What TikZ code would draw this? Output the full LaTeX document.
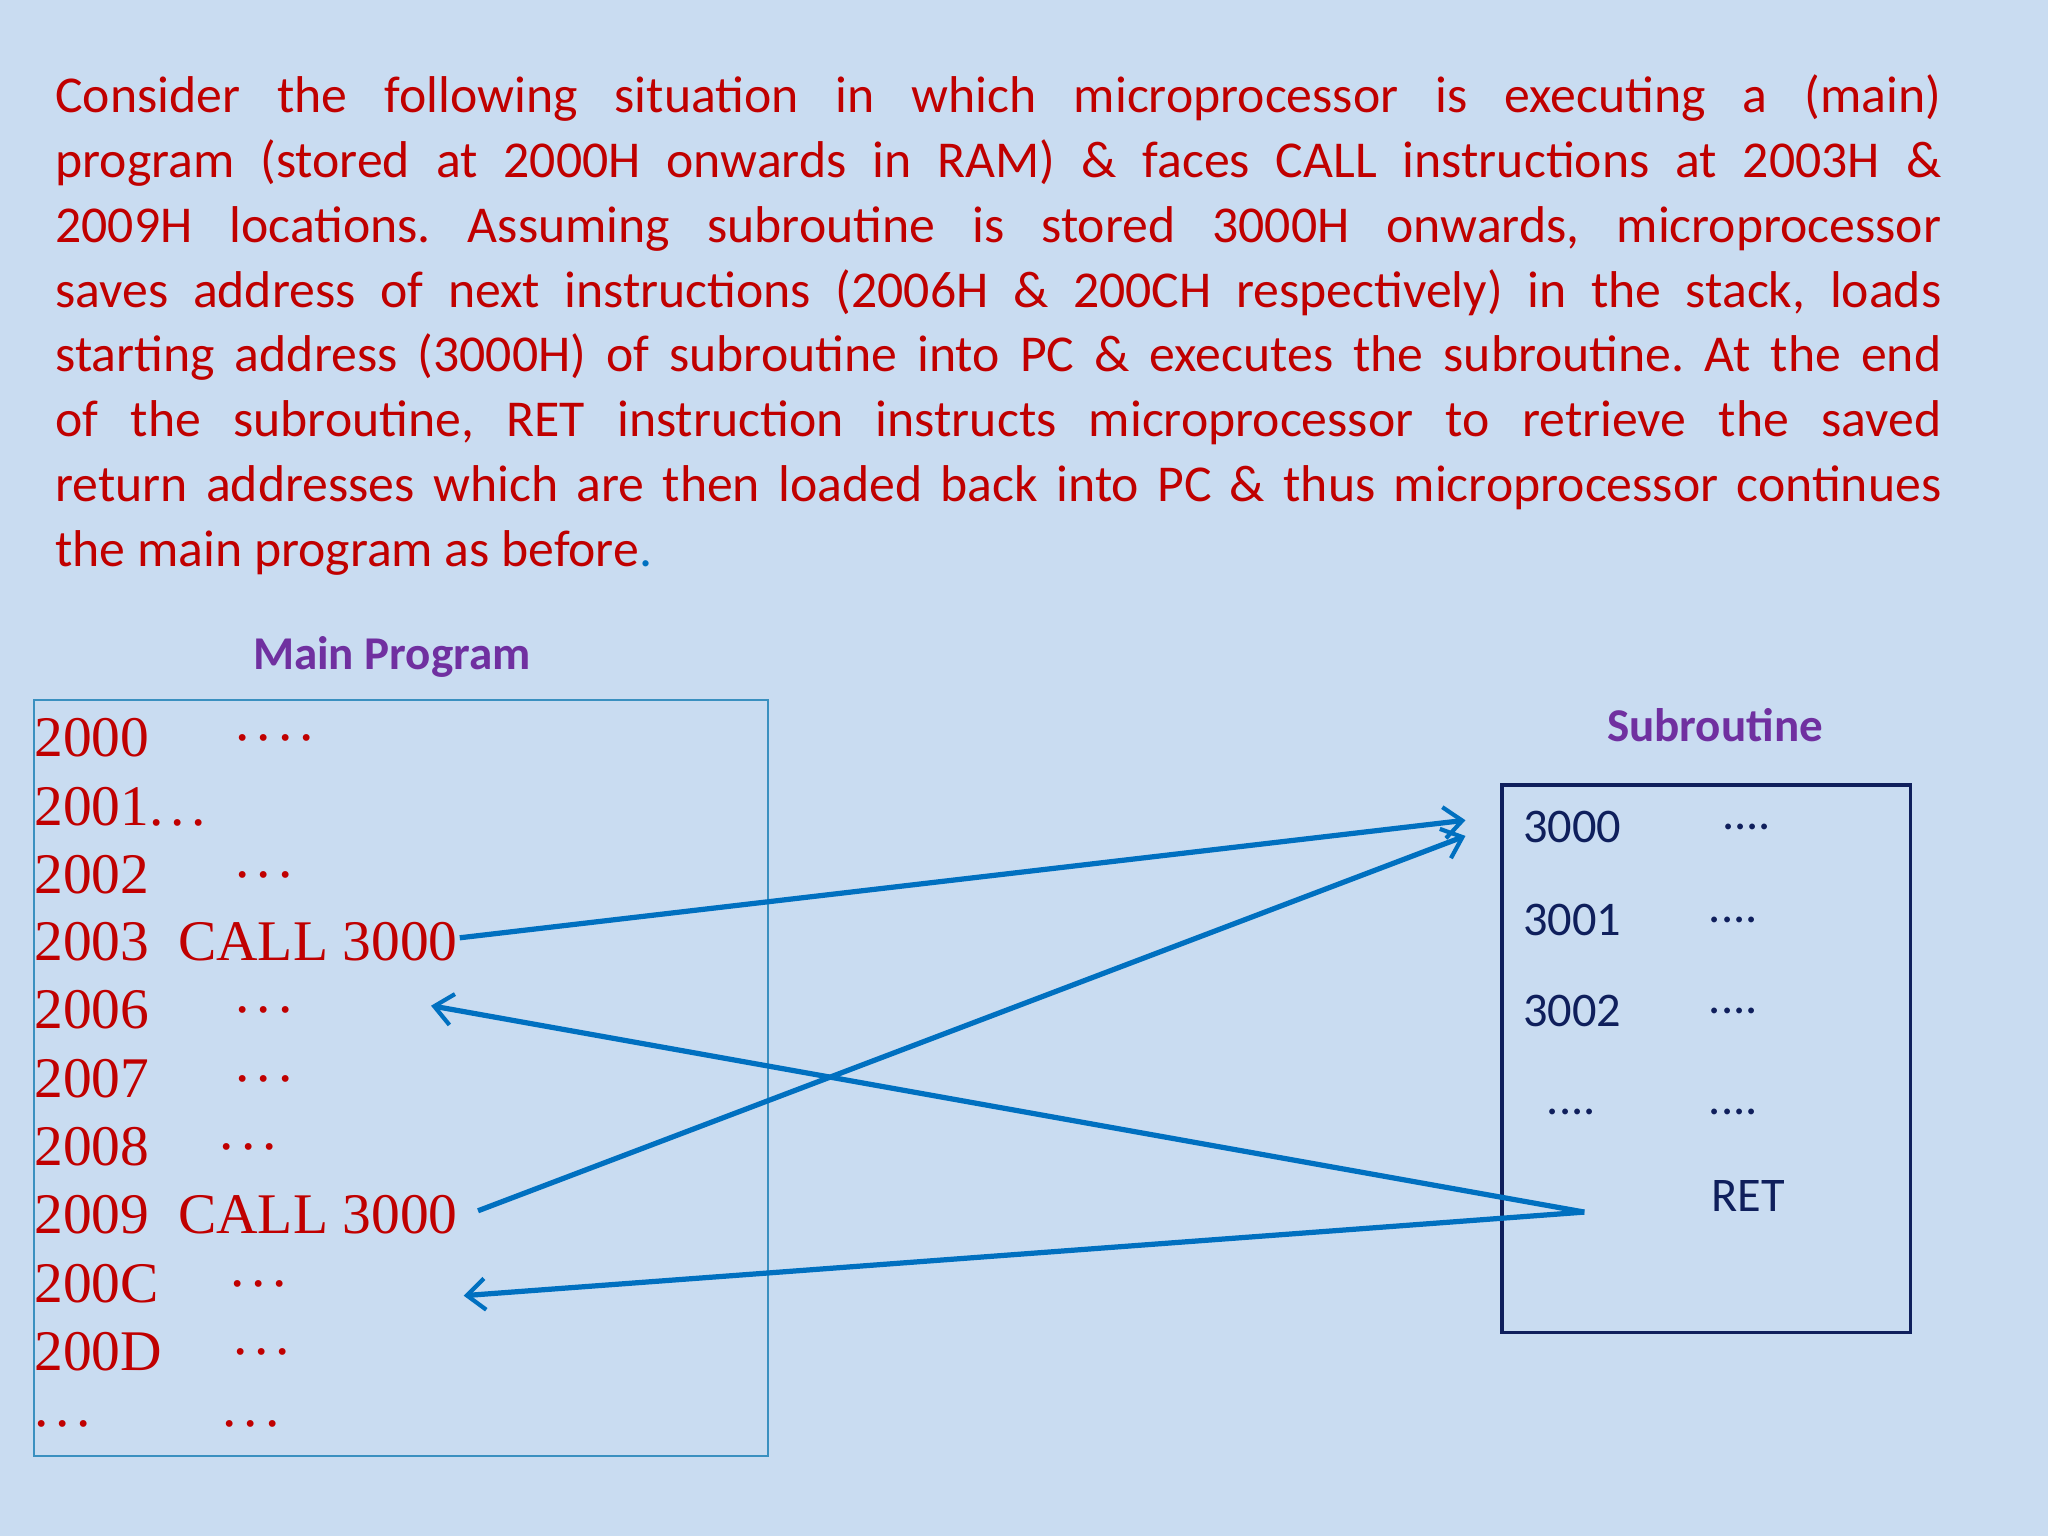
\documentclass[tikz,border=0pt]{standalone}
\usepackage{fontspec}
\setmainfont{Carlito}
\newfontfamily\timesf{Liberation Serif}
\usetikzlibrary{arrows.meta}
\definecolor{bg}{HTML}{C9DCF1}
\definecolor{txtred}{HTML}{C00000}
\definecolor{purp}{HTML}{7030A0}
\definecolor{arr}{HTML}{0070C0}
\definecolor{navy}{HTML}{0F1F5C}
\definecolor{teal}{HTML}{3A90C0}
\newcommand{\dts}[1]{\foreach \i in {1,...,#1}{.\hspace{0.12em}}}
\frenchspacing
\begin{document}
\begin{tikzpicture}[x=0.5pt,y=-0.5pt,
  mp/.style={anchor=west,inner sep=0pt,font=\timesf\fontsize{22}{24}\selectfont,text=txtred},
  sr/.style={anchor=west,inner sep=0pt,font=\fontsize{18.5}{20}\selectfont,text=navy},
  ttl/.style={font=\bfseries\fontsize{18}{20}\selectfont,text=purp},
  con/.style={draw=arr,line width=2pt,-{Straight Barb[length=7pt,width=12pt,line width=1.6pt]}}]
\fill[bg] (0,0) rectangle (1568,1176);
\useasboundingbox (0,0) rectangle (1568,1176);
\node[anchor=north west,inner sep=0pt,text width=722pt,align=justify,text=txtred,
  font=\fontsize{19.8}{24.8}\selectfont] (para) at (42,57)
{\hyphenpenalty=10000 Consider the following situation in which microprocessor is executing a (main)\linebreak program (stored at 2000H onwards in RAM) \& faces CALL instructions at 2003H \&\linebreak 2009H locations. Assuming subroutine is stored 3000H onwards, microprocessor\linebreak saves address of next instructions (2006H \& 200CH respectively) in the stack, loads\linebreak starting address (3000H) of subroutine into PC \& executes the subroutine. At the end\linebreak of the subroutine, RET instruction instructs microprocessor to retrieve the saved\linebreak return addresses which are then loaded back into PC \& thus microprocessor continues\linebreak the main program as before\textcolor{arr}{.}};
\node[ttl] (tmain) at (300,503) {Main Program};
\node[ttl] (tsub) at (1313,555) {Subroutine};
\draw[teal,line width=0.8pt] (26,536) rectangle (588,1115);
\draw[navy,line width=1.2pt] (1150,601) rectangle (1463,1020);
\node[mp] (m0) at (26,565) {2000};\node[mp] (d0) at (180,565) {\dts{4}};
\node[mp] (m1) at (26,618) {2001\dts{3}};
\node[mp] (m2) at (26,670) {2002};\node[mp] (d2) at (180,670) {\dts{3}};
\node[mp] (m3) at (26,721) {2003\ \ CALL 3000};
\node[mp] (m4) at (26,773) {2006};\node[mp] (d4) at (180,773) {\dts{3}};
\node[mp] (m5) at (26,826) {2007};\node[mp] (d5) at (180,826) {\dts{3}};
\node[mp] (m6) at (26,878) {2008};\node[mp] (d6) at (168,878) {\dts{3}};
\node[mp] (m7) at (26,930) {2009\ \ CALL 3000};
\node[mp] (m8) at (26,983) {200C};\node[mp] (d8) at (176,983) {\dts{3}};
\node[mp] (m9) at (26,1035) {200D};\node[mp] (d9) at (178,1035) {\dts{3}};
\node[mp] (m10) at (26,1090) {\dts{3}};\node[mp] (d10) at (170,1090) {\dts{3}};
\node[sr] (s0) at (1166,633) {3000};\node[sr] (e0) at (1318,633) {....};
\node[sr] (s1) at (1166,704) {3001};\node[sr] (e1) at (1308,704) {....};
\node[sr] (s2) at (1166,774) {3002};\node[sr] (e2) at (1308,774) {....};
\node[sr] (s3) at (1184,851) {....};\node[sr] (e3) at (1308,851) {....};
\node[sr] (ret) at (1310,916) {RET};
\coordinate (c1s) at (352,718); \coordinate (c1e) at (1122,628);
\coordinate (c2s) at (366,927); \coordinate (c2e) at (1122,640);
\coordinate (rs) at (1213,928);
\coordinate (r1e) at (330,770); \coordinate (r2e) at (355,992);
\draw[con] (c1s) -- (c1e);
\draw[con] (c2s) -- (c2e);
\draw[con] (rs) -- (r1e);
\draw[con] (rs) -- (r2e);
\end{tikzpicture}
\end{document}
